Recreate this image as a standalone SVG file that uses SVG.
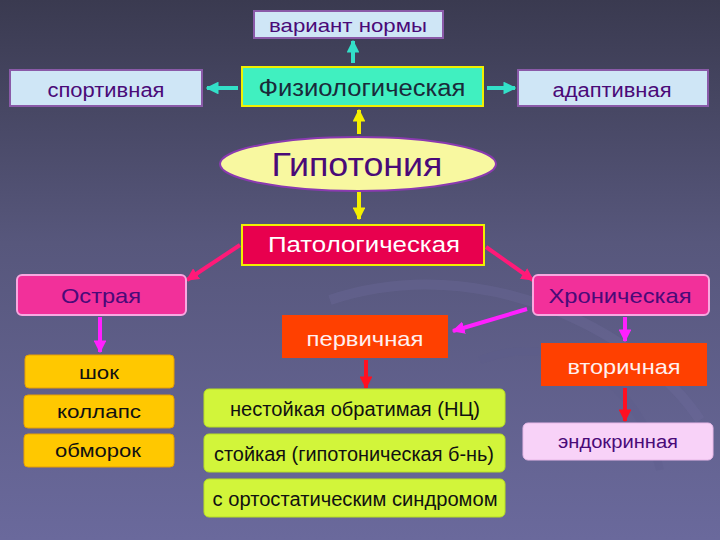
<svg xmlns="http://www.w3.org/2000/svg" width="720" height="540" viewBox="0 0 720 540">
<defs>
<linearGradient id="bg" x1="0" y1="0" x2="0" y2="1">
<stop offset="0" stop-color="#3a3a50"/>
<stop offset="0.45" stop-color="#57577c"/>
<stop offset="1" stop-color="#6a699c"/>
</linearGradient>
<marker id="hc" viewBox="0 0 10 10" refX="9" refY="5" markerWidth="3.2" markerHeight="3.2" orient="auto" markerUnits="strokeWidth"><path d="M0,0 L10,5 L0,10 z" fill="#33e0c8"/></marker>
<marker id="hy" viewBox="0 0 10 10" refX="9" refY="5" markerWidth="3.2" markerHeight="3.2" orient="auto" markerUnits="strokeWidth"><path d="M0,0 L10,5 L0,10 z" fill="#f4f000"/></marker>
<marker id="hp" viewBox="0 0 10 10" refX="9" refY="5" markerWidth="3.2" markerHeight="3.2" orient="auto" markerUnits="strokeWidth"><path d="M0,0 L10,5 L0,10 z" fill="#ff1a78"/></marker>
<marker id="hm" viewBox="0 0 10 10" refX="9" refY="5" markerWidth="3.2" markerHeight="3.2" orient="auto" markerUnits="strokeWidth"><path d="M0,0 L10,5 L0,10 z" fill="#ff20ff"/></marker>
<marker id="hr" viewBox="0 0 10 10" refX="9" refY="5" markerWidth="3.2" markerHeight="3.2" orient="auto" markerUnits="strokeWidth"><path d="M0,0 L10,5 L0,10 z" fill="#ff1020"/></marker>
</defs>
<style>
text{font-family:"Liberation Sans",Arial,sans-serif;text-anchor:middle}
.lb{fill:#cfe6f6;stroke:#8a5aa8;stroke-width:2}
.pt{fill:#4a0a78}
.pink{fill:#f2309a;stroke:#f8a8e0;stroke-width:2}
.orange{fill:#ff4000}
.gold{fill:#ffc800;stroke:#e8a000;stroke-width:1}
.lime{fill:#d2f53a;stroke:#b8e020;stroke-width:1}
.wt{fill:#fff0f0}
.bk{fill:#111}
.c{stroke-width:4;fill:none}
</style>
<rect width="720" height="540" fill="url(#bg)"/>
<path d="M330,300 C480,250 640,330 700,420" stroke="#6f6ea0" stroke-width="10" fill="none" opacity="0.3"/>
<path d="M480,360 C560,330 640,380 660,470" stroke="#5d5c8c" stroke-width="8" fill="none" opacity="0.3"/>

<g id="connectors">
<line class="c" x1="353" y1="63" x2="353" y2="41" stroke="#33e0c8" marker-end="url(#hc)"/>
<line class="c" x1="238" y1="88" x2="207" y2="88" stroke="#33e0c8" marker-end="url(#hc)"/>
<line class="c" x1="487" y1="88" x2="515" y2="88" stroke="#33e0c8" marker-end="url(#hc)"/>
<line class="c" x1="359" y1="134" x2="359" y2="110" stroke="#f4f000" marker-end="url(#hy)"/>
<line class="c" x1="359" y1="192" x2="359" y2="219" stroke="#f4f000" marker-end="url(#hy)"/>
<line class="c" x1="240" y1="245" x2="187" y2="280" stroke="#ff1a78" marker-end="url(#hp)"/>
<line class="c" x1="486" y1="247" x2="533" y2="280" stroke="#ff1a78" marker-end="url(#hp)"/>
<line class="c" x1="100" y1="317" x2="100" y2="352" stroke="#ff20ff" marker-end="url(#hm)"/>
<line class="c" x1="527" y1="309" x2="453" y2="331" stroke="#ff20ff" marker-end="url(#hm)"/>
<line class="c" x1="625" y1="317" x2="625" y2="341" stroke="#ff20ff" marker-end="url(#hm)"/>
<line class="c" x1="366" y1="360" x2="366" y2="388" stroke="#ff1020" marker-end="url(#hr)"/>
<line class="c" x1="625" y1="388" x2="625" y2="421" stroke="#ff1020" marker-end="url(#hr)"/>
</g>

<g id="n-variant"><rect class="lb" x="254" y="11" width="189" height="27"/><text class="pt" x="348" y="32" font-size="19" textLength="158" lengthAdjust="spacingAndGlyphs">вариант нормы</text></g>
<g id="n-sport"><rect class="lb" x="10" y="70" width="192" height="36"/><text class="pt" x="106" y="97" font-size="20" textLength="117" lengthAdjust="spacingAndGlyphs">спортивная</text></g>
<g id="n-fiz"><rect x="242" y="67" width="241" height="39" fill="#40f0c0" stroke="#f0f000" stroke-width="2"/><text x="362" y="96" font-size="23" fill="#1a2a3a" textLength="207" lengthAdjust="spacingAndGlyphs">Физиологическая</text></g>
<g id="n-adapt"><rect class="lb" x="518" y="70" width="190" height="36"/><text class="pt" x="612" y="97" font-size="20" textLength="119" lengthAdjust="spacingAndGlyphs">адаптивная</text></g>
<g id="n-gipo"><ellipse cx="358" cy="164" rx="138" ry="27" fill="#f8f8a0" stroke="#8a3ab0" stroke-width="2"/><text class="pt" x="357" y="176" font-size="33" textLength="171" lengthAdjust="spacingAndGlyphs">Гипотония</text></g>
<g id="n-pat"><rect x="242" y="225" width="242" height="40" fill="#e8004e" stroke="#f0f000" stroke-width="2"/><text x="364" y="252" font-size="22" fill="#ffffff" textLength="192" lengthAdjust="spacingAndGlyphs">Патологическая</text></g>
<g id="n-ostr"><rect class="pink" x="17" y="275" width="169" height="40" rx="5"/><text class="pt" x="101" y="303" font-size="21" textLength="80" lengthAdjust="spacingAndGlyphs">Острая</text></g>
<g id="n-hron"><rect class="pink" x="533" y="275" width="176" height="40" rx="5"/><text class="pt" x="620" y="303" font-size="21" textLength="143" lengthAdjust="spacingAndGlyphs">Хроническая</text></g>
<g id="n-perv"><rect class="orange" x="282" y="315" width="166" height="43"/><text class="wt" x="365" y="346" font-size="21" textLength="117" lengthAdjust="spacingAndGlyphs">первичная</text></g>
<g id="n-vtor"><rect class="orange" x="541" y="343" width="166" height="43"/><text class="wt" x="624" y="374" font-size="21" textLength="113" lengthAdjust="spacingAndGlyphs">вторичная</text></g>
<g id="n-shok"><rect class="gold" x="25" y="355" width="149" height="33" rx="4"/><text class="bk" x="99" y="379" font-size="19" textLength="40" lengthAdjust="spacingAndGlyphs">шок</text></g>
<g id="n-koll"><rect class="gold" x="24" y="395" width="150" height="33" rx="4"/><text class="bk" x="99" y="418" font-size="19" textLength="84" lengthAdjust="spacingAndGlyphs">коллапс</text></g>
<g id="n-obm"><rect class="gold" x="24" y="434" width="150" height="33" rx="4"/><text class="bk" x="98" y="457" font-size="19" textLength="86" lengthAdjust="spacingAndGlyphs">обморок</text></g>
<g id="n-nest"><rect class="lime" x="204" y="389" width="301" height="38" rx="5"/><text class="bk" x="355" y="416" font-size="20" textLength="250" lengthAdjust="spacingAndGlyphs">нестойкая обратимая (НЦ)</text></g>
<g id="n-stoi"><rect class="lime" x="204" y="434" width="301" height="38" rx="5"/><text class="bk" x="354" y="461" font-size="20" textLength="280" lengthAdjust="spacingAndGlyphs">стойкая (гипотоническая б-нь)</text></g>
<g id="n-orto"><rect class="lime" x="204" y="479" width="301" height="38" rx="5"/><text class="bk" x="355" y="506" font-size="20" textLength="285" lengthAdjust="spacingAndGlyphs">с ортостатическим синдромом</text></g>
<g id="n-endo"><rect x="523" y="423" width="190" height="37" rx="5" fill="#f8d2f8" stroke="#e8b8e8" stroke-width="1"/><text class="pt" x="618" y="448" font-size="18" textLength="120" lengthAdjust="spacingAndGlyphs">эндокринная</text></g>
</svg>
